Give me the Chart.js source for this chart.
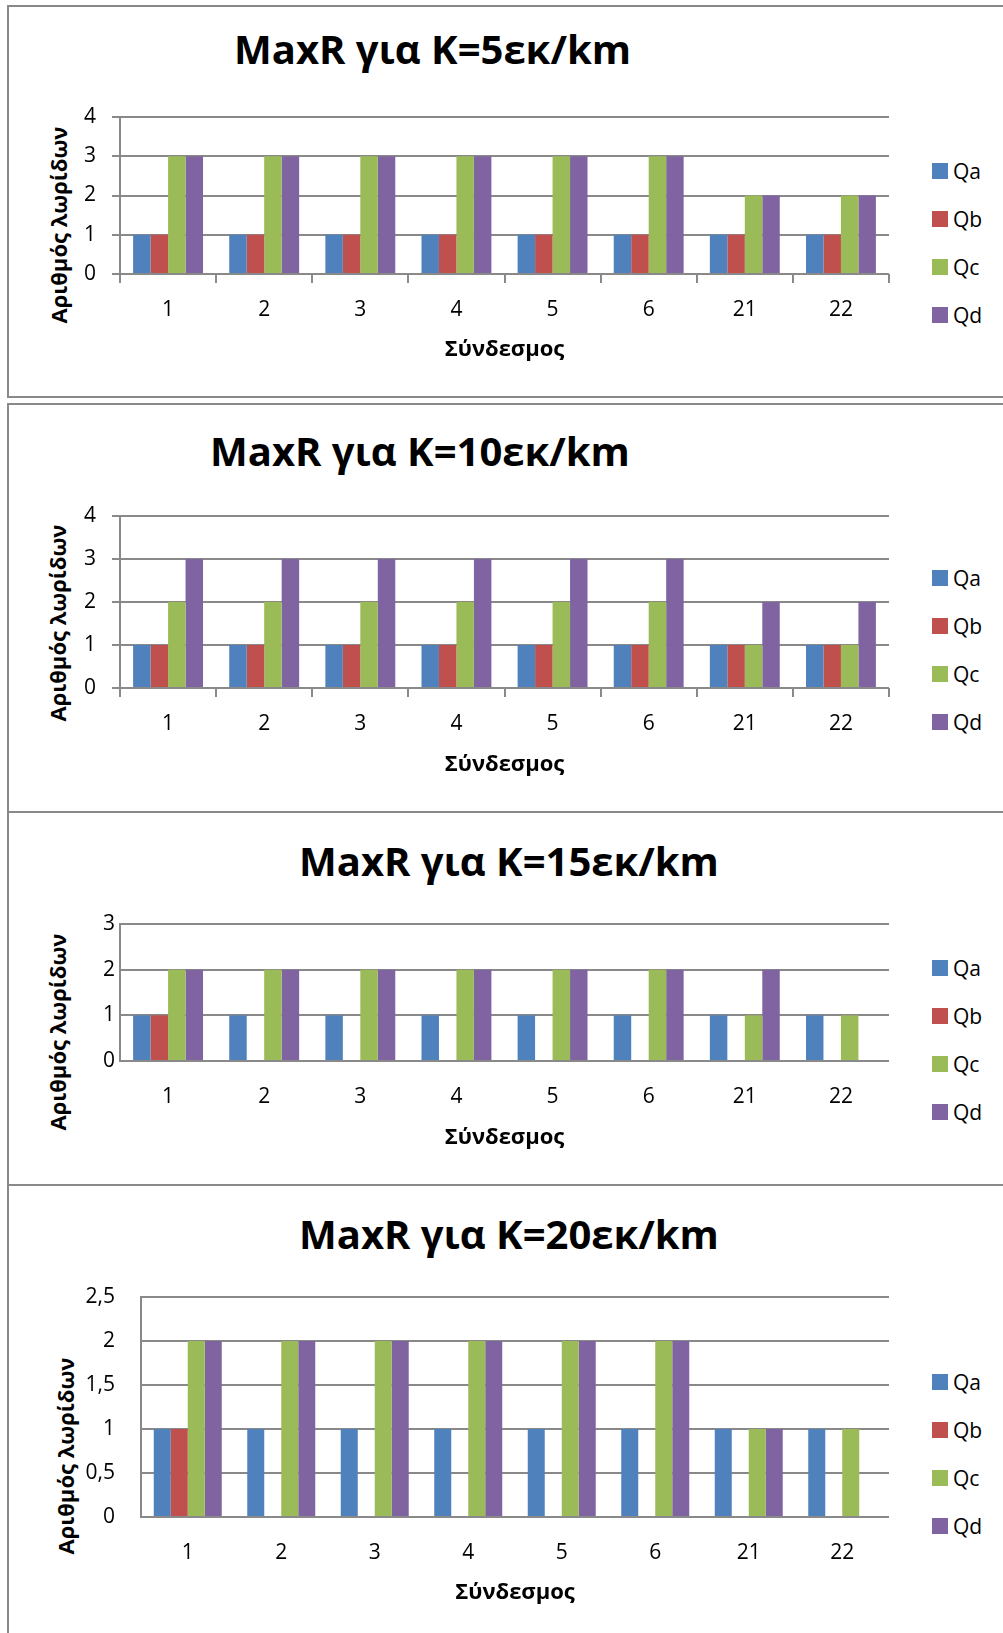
<!DOCTYPE html>
<html>
<head>
<meta charset="utf-8">
<script src="https://cdn.jsdelivr.net/npm/chart.js@4.4.1/dist/chart.umd.min.js"></script>
<style>
  html, body { margin: 0; padding: 0; background: #fff; }
  body { width: 1003px; height: 1633px; position: relative; overflow: hidden; font-family: "Open Sans", sans-serif; color: #000; }
  .rule { position: absolute; background: #898989; }
  canvas { position: absolute; left: 0; }
  .ttl { position: absolute; font-weight: 700; font-size: 40px; line-height: 40px; white-space: nowrap; }
  .ytl { position: absolute; font-weight: 700; font-size: 22px; line-height: 22px; white-space: nowrap;
         transform: translate(-50%, -50%) rotate(-90deg); }
  .key { position: absolute; left: 932px; }
  .key div { height: 48px; display: flex; align-items: center; font-size: 21px; }
  .key span { display: inline-block; width: 16px; height: 16px; margin-right: 5px; }
</style>
</head>
<body>
<script>
// ---- data -------------------------------------------------------------
const categories = ['1', '2', '3', '4', '5', '6', '21', '22'];
const seriesNames = ['Qa', 'Qb', 'Qc', 'Qd'];
const chartTitles = ['MaxR για K=5εκ/km', 'MaxR για K=10εκ/km', 'MaxR για K=15εκ/km', 'MaxR για K=20εκ/km'];
const xAxisTitle = 'Σύνδεσμος';
const yAxisTitle = 'Αριθμός λωρίδων';

// K = 5 veh/km
const k5Qa = [1, 1, 1, 1, 1, 1, 1, 1];
const k5Qb = [1, 1, 1, 1, 1, 1, 1, 1];
const k5Qc = [3, 3, 3, 3, 3, 3, 2, 2];
const k5Qd = [3, 3, 3, 3, 3, 3, 2, 2];
// K = 10 veh/km
const k10Qa = [1, 1, 1, 1, 1, 1, 1, 1];
const k10Qb = [1, 1, 1, 1, 1, 1, 1, 1];
const k10Qc = [2, 2, 2, 2, 2, 2, 1, 1];
const k10Qd = [3, 3, 3, 3, 3, 3, 2, 2];
// K = 15 veh/km
const k15Qa = [1, 1, 1, 1, 1, 1, 1, 1];
const k15Qb = [1, 0, 0, 0, 0, 0, 0, 0];
const k15Qc = [2, 2, 2, 2, 2, 2, 1, 1];
const k15Qd = [2, 2, 2, 2, 2, 2, 2, 0];
// K = 20 veh/km
const k20Qa = [1, 1, 1, 1, 1, 1, 1, 1];
const k20Qb = [1, 0, 0, 0, 0, 0, 0, 0];
const k20Qc = [2, 2, 2, 2, 2, 2, 1, 1];
const k20Qd = [2, 2, 2, 2, 2, 2, 1, 0];

// value axis: upper bound and step of each chart
const yMaxima = [4, 4, 3, 2.5];
const yStepSizes = [1, 1, 1, 0.5];

// ---- styling ----------------------------------------------------------
const seriesColors = ['#4F81BD', '#C0504D', '#9BBB59', '#8064A2'];
const lineGray = '#898989';
const fontFamily = '"Open Sans", sans-serif';
const tickFontSize = 21;

// frame rules around the four chart boxes: [left, top, width, height]
const rules = [
  [7, 5, 996, 2], [7, 396, 996, 2], [7, 5, 2, 393],
  [7, 403, 996, 2], [7, 403, 2, 1230],
  [7, 811, 996, 2], [7, 1184, 996, 2]
];

// per-chart layout (page pixels)
const panels = [
  { top: 9,    bottom: 396,  plotTop: 117,  plotBottom: 274,  plotLeft: 120, ticks: true,
    title: { left: 234, baseline: 65 },   yTitle: { x: 58, y: 225 },  keyFirst: 171,  xTitleY: 350 },
  { top: 405,  bottom: 811,  plotTop: 516,  plotBottom: 688,  plotLeft: 120, ticks: true,
    title: { left: 210, baseline: 467 },  yTitle: { x: 57, y: 623 },  keyFirst: 578,  xTitleY: 765 },
  { top: 813,  bottom: 1184, plotTop: 924,  plotBottom: 1061, plotLeft: 120, ticks: false,
    title: { left: 299, baseline: 877 },  yTitle: { x: 57, y: 1032 }, keyFirst: 968,  xTitleY: 1138 },
  { top: 1186, bottom: 1633, plotTop: 1297, plotBottom: 1517, plotLeft: 141, ticks: false,
    title: { left: 299, baseline: 1250 }, yTitle: { x: 65, y: 1456 }, keyFirst: 1382, xTitleY: 1593 }
];
const plotRight = 889;
const pageWidth = 1003;

const seriesByChart = [
  [k5Qa, k5Qb, k5Qc, k5Qd],
  [k10Qa, k10Qb, k10Qc, k10Qd],
  [k15Qa, k15Qb, k15Qc, k15Qd],
  [k20Qa, k20Qb, k20Qc, k20Qd]
];

function addDiv(cls, css, text) {
  const d = document.createElement('div');
  if (cls) d.className = cls;
  Object.assign(d.style, css);
  if (text !== undefined) d.textContent = text;
  document.body.appendChild(d);
  return d;
}

rules.forEach(([l, t, w, h]) => addDiv('rule', { left: l + 'px', top: t + 'px', width: w + 'px', height: h + 'px' }));

const TITLE_BASELINE = 0.888 * 40; // baseline offset inside a 40px line box

panels.forEach((p, i) => {
  // heading
  addDiv('ttl', { left: p.title.left + 'px', top: (p.title.baseline - TITLE_BASELINE) + 'px' }, chartTitles[i]);
  // value-axis title
  addDiv('ytl', { left: p.yTitle.x + 'px', top: p.yTitle.y + 'px' }, yAxisTitle);
  // series key
  const key = addDiv('key', { top: (p.keyFirst - 24) + 'px' });
  seriesNames.forEach((name, s) => {
    const row = document.createElement('div');
    const sw = document.createElement('span');
    sw.style.background = seriesColors[s];
    row.appendChild(sw);
    row.appendChild(document.createTextNode(name));
    key.appendChild(row);
  });

  // plot
  const h = p.bottom - p.top;
  const cv = document.createElement('canvas');
  cv.width = pageWidth; cv.height = h;
  cv.style.top = p.top + 'px';
  document.body.appendChild(cv);

  const xScaleHeight = p.bottom - p.plotBottom;
  const tickLen = p.ticks ? 9 : 0;
  const halfLine = tickFontSize * 1.2 / 2;

  new Chart(cv.getContext('2d'), {
    type: 'bar',
    data: {
      labels: categories,
      datasets: seriesNames.map((name, s) => ({
        label: name,
        data: seriesByChart[i][s],
        backgroundColor: seriesColors[s],
        borderWidth: 0,
        categoryPercentage: 4 / 5.5,
        barPercentage: 1.0
      }))
    },
    options: {
      responsive: false,
      animation: false,
      events: [],
      layout: { padding: { top: p.plotTop - p.top, right: pageWidth - plotRight, left: 0, bottom: 0 } },
      plugins: { legend: { display: false }, title: { display: false }, tooltip: { enabled: false } },
      scales: {
        x: {
          offset: true,
          grid: {
            display: p.ticks, offset: true, drawOnChartArea: false, drawTicks: p.ticks,
            tickLength: 9, color: lineGray, lineWidth: 2
          },
          border: { display: false },
          ticks: {
            color: '#000', padding: 36 - tickLen - halfLine, maxRotation: 0, autoSkip: false,
            font: { family: fontFamily, size: tickFontSize }
          },
          title: {
            display: true, text: xAxisTitle, color: '#000',
            font: { family: fontFamily, size: 22, weight: '700' },
            padding: { top: 0, bottom: (p.bottom - p.xTitleY) - 13.2 }
          },
          afterFit: s => { s.height = xScaleHeight; }
        },
        y: {
          min: 0, max: yMaxima[i],
          grid: {
            color: lineGray, lineWidth: 2, drawTicks: p.ticks, tickLength: 8
          },
          border: { display: true, color: lineGray, width: 2 },
          ticks: {
            stepSize: yStepSizes[i], color: '#000',
            padding: p.ticks ? 16 : (p.plotLeft - 115),
            font: { family: fontFamily, size: tickFontSize },
            callback: v => String(v).replace('.', ',')
          },
          afterFit: s => { s.width = p.plotLeft; }
        }
      }
    }
  });
});
</script>
</body>
</html>
